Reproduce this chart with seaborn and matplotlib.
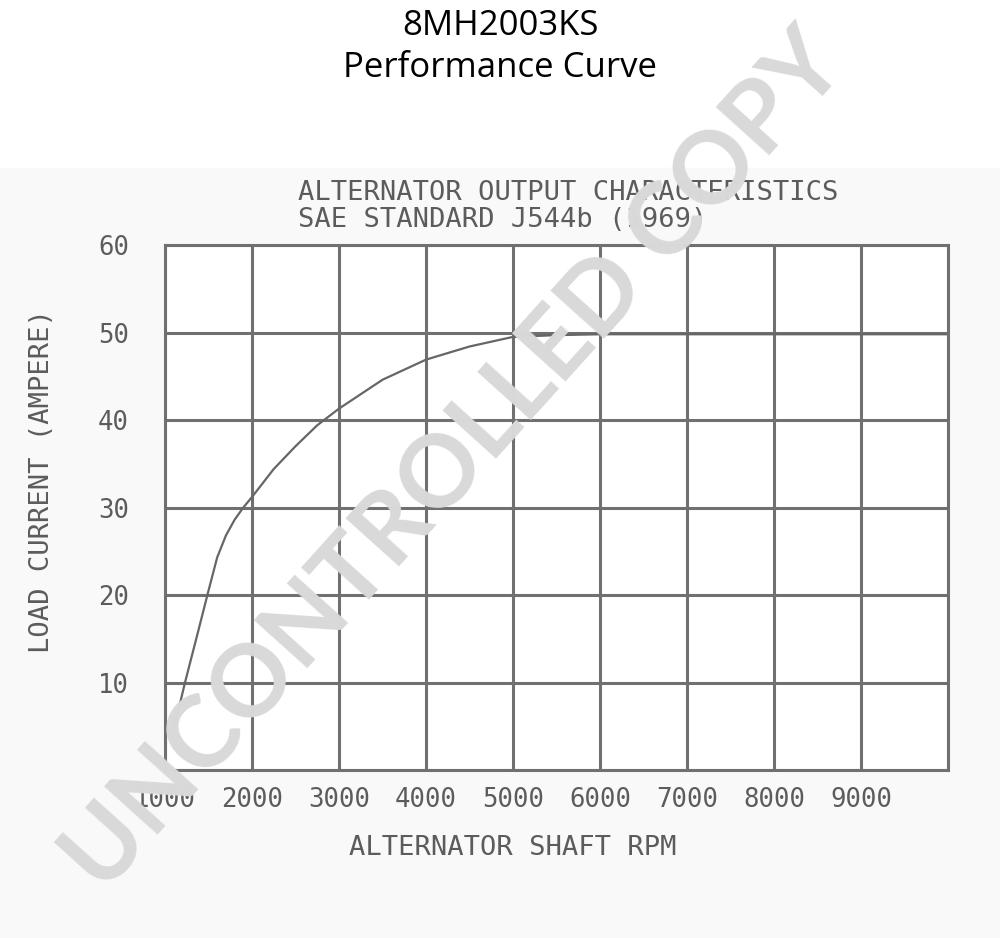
import numpy as np
import pandas as pd
import seaborn as sns
import matplotlib.pyplot as plt
from matplotlib.patches import Rectangle

# values
rpm = [1110, 1230, 1380, 1500, 1600, 1700, 1800, 1900, 2000, 2250, 2500, 2750,
       3000, 3500, 4000, 4500, 5000, 5500, 6000, 7000, 8000, 9000, 10000]
amps = [5.0, 10.0, 15.8, 20.5, 24.3, 26.8, 28.6, 30.0, 31.2, 34.4, 37.0, 39.4,
        41.3, 44.6, 46.9, 48.4, 49.5, 49.7, 49.8, 49.8, 49.8, 49.8, 49.8]

x_ticks = [1000, 2000, 3000, 4000, 5000, 6000, 7000, 8000, 9000, 10000]
x_labels = ["1000", "2000", "3000", "4000", "5000", "6000", "7000", "8000", "9000", ""]
y_ticks = [0, 10, 20, 30, 40, 50, 60]
y_labels = ["", "10", "20", "30", "40", "50", "60"]

df = pd.DataFrame({"rpm": rpm, "amps": amps})

sns.set_style("white")
scan = "#5c5c5c"
grid = "#707070"
mono = "DejaVu Sans Mono"
fs = 19.5

fig = plt.figure(figsize=(10, 9.38), dpi=100)
fig.patches.append(Rectangle((0, 0), 1, 1 - 168 / 938, transform=fig.transFigure,
                             color="#f9f9f9", zorder=-5))

ax = fig.add_axes([0.165, 0.1791, 0.783, 0.5597])
ax.set_facecolor("white")
sns.lineplot(data=df, x="rpm", y="amps", ax=ax, color="#666666", linewidth=1.6)

ax.set_xlim(1000, 10000)
ax.set_ylim(0, 60)
ax.set_xticks(x_ticks)
ax.set_xticklabels(x_labels)
ax.set_yticks(y_ticks)
ax.set_yticklabels(y_labels)
ax.grid(True, color=grid, linewidth=2.2)
ax.set_axisbelow(True)
for s in ax.spines.values():
    s.set_color(grid)
    s.set_linewidth(2.2)
ax.tick_params(length=0, colors=scan, labelsize=18.5)
ax.tick_params(axis="x", pad=12)
ax.tick_params(axis="y", pad=26)
for lbl in ax.get_xticklabels() + ax.get_yticklabels():
    lbl.set_family(mono)

ax.set_xlabel("ALTERNATOR SHAFT RPM", family=mono, fontsize=fs, color=scan)
ax.set_ylabel("LOAD CURRENT (AMPERE)", family=mono, fontsize=fs, color=scan)
ax.xaxis.set_label_coords(0.444, -0.124)
ax.yaxis.set_label_coords(-0.14, 0.55)

fig.text(0.298, 1 - 193 / 938, "ALTERNATOR OUTPUT CHARACTERISTICS", family=mono,
         fontsize=fs, color=scan, ha="left", va="center")
fig.text(0.298, 1 - 220 / 938, "SAE STANDARD J544b (1969)", family=mono,
         fontsize=fs, color=scan, ha="left", va="center")

fig.text(0.5, 1 - 26 / 938, "8MH2003KS", family="Open Sans", fontsize=25,
         color="black", ha="center", va="center")
fig.text(0.5, 1 - 68 / 938, "Performance Curve", family="Open Sans", fontsize=25,
         color="black", ha="center", va="center")

# watermark
fig.text(0.455, 1 - 462 / 938, "UNCONTROLLED COPY", family="Lato", weight="bold",
         fontsize=72, color="#d9d9d9", ha="center", va="center", rotation=48,
         rotation_mode="anchor", zorder=20)

fig.savefig("out.png", dpi=100)
